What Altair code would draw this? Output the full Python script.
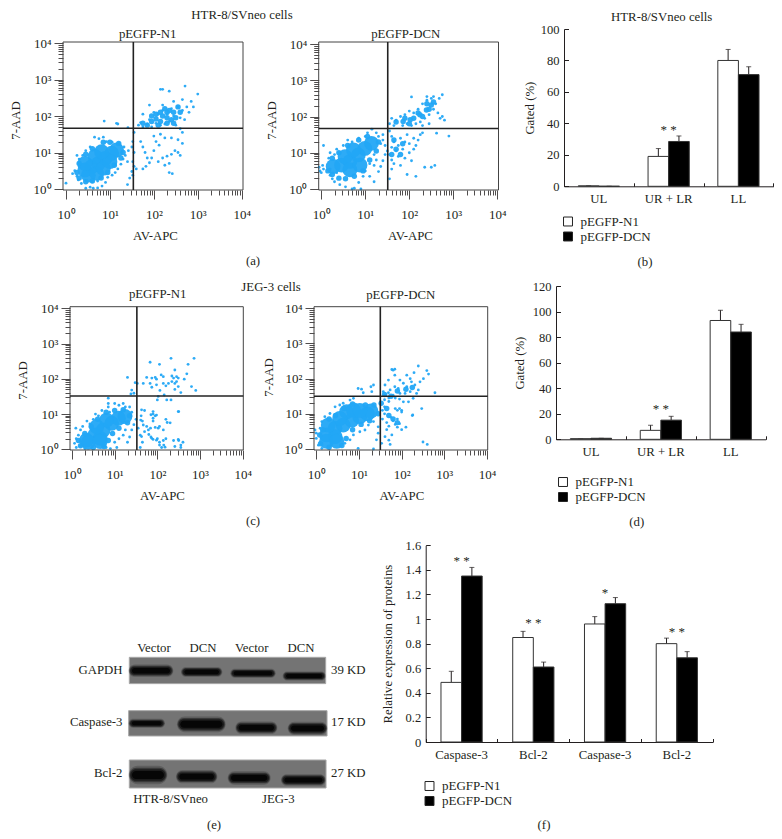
import altair as alt
import pandas as pd

W, H = 766, 825
FONT = "Liberation Serif"
INK = "#231f20"
BLUE = "#22a7f5"
FS = 12.8

# ---------- flow cytometry events, in decades of fluorescence (log10 AV-APC, log10 7-AAD) ----------
a1_core = [(0.43,0.52),(0.58,0.61),(0.74,0.70),(0.89,0.84),(1.04,0.98),(1.15,1.07),(0.51,0.38),(0.70,0.43),(0.85,0.57),(1.0,0.75),(0.66,0.89),(0.81,1.02),(0.43,0.70)]
a1_mid = [(2.05,1.92),(2.2,2.0),(2.3,1.95),(2.15,1.85),(2.3,2.1),(2.4,1.9),(1.95,1.85),
 (1.85,1.75),(1.95,2.0),(2.05,2.05),(2.15,2.1),(2.25,2.2),(2.35,2.15),(2.45,2.1),(2.5,1.95),(2.45,1.8),(2.3,1.8),(2.1,1.75),(2.6,2.1),(2.55,2.25),(1.75,1.8),
 (0.25,0.45),(0.3,0.3),(0.45,0.2),(0.6,0.22),(0.8,0.3),(0.95,0.45),(1.1,0.65),(1.25,0.85),(1.3,1.0),(1.2,1.25),(1.0,1.28),(0.85,1.28),(0.6,1.1),(0.45,0.95),(0.3,0.7)]
a1_small = [(0.0,0.16),(0.2,0.5),(0.25,0.35),(0.3,0.62),(0.15,0.42),(0.28,0.25),(0.35,0.15),(0.45,0.02),(0.55,0.05),(0.62,0.02),(0.72,0.03),(0.82,0.08),(0.9,0.18),(0.6,0.2),(0.72,0.22),(0.48,0.22),(0.95,0.32),(1.05,0.38),(1.12,0.45),(1.18,0.55),(1.25,0.68),(1.3,0.82),(1.35,0.92),(1.42,1.05),(1.4,0.75),(1.32,1.15),(1.2,1.25),(1.05,1.28),(0.92,1.3),(0.75,1.38),(0.65,1.42),(0.85,1.42),(0.55,1.15),(0.45,1.05),(0.38,0.92),(0.3,0.82),(0.25,0.92),(0.87,1.86),(1.18,1.78),(1.15,1.8),(1.41,1.68),(1.55,1.55),(1.52,1.3),(1.5,1.15),(1.55,1.0),(1.52,0.75),(1.55,0.62),(1.5,0.48),(1.52,0.38),(1.6,0.55),(1.45,0.3),(1.4,0.12),
 (1.7,1.3),(1.75,1.15),(1.8,1.0),(1.85,0.85),(1.9,0.72),(1.82,0.62),(1.75,0.55),(1.95,0.85),(2.0,1.05),(2.05,1.3),(2.0,1.45),(2.12,1.2),(2.1,0.75),(2.2,0.85),(2.25,0.65),(2.35,0.7),(2.4,0.95),(2.48,1.05),(2.55,1.0),(2.6,0.92),(2.35,0.45),(2.42,0.42),(2.3,0.9),(2.65,1.25),(2.55,1.35),(2.4,1.4),(2.25,1.4),(2.15,1.5),
 (1.65,1.75),(1.7,1.82),(1.75,1.7),(1.85,1.78),(1.9,1.9),(1.95,1.7),(2.0,2.1),(2.05,1.8),(2.1,2.05),(2.15,1.75),(2.2,2.15),(2.25,1.78),(2.3,2.05),(2.35,1.85),(2.4,2.2),(2.45,2.0),(2.5,1.75),(2.55,2.25),(2.6,1.95),(2.65,2.15),(2.7,1.9),(2.75,2.25),(2.8,2.1),(2.6,1.65),(2.65,1.55),(2.2,2.3),(2.45,2.4),(2.65,2.45),(2.85,2.4),(2.9,2.25),(2.71,2.82),(3.0,2.6),(2.15,2.73),(2.2,2.73),(2.35,2.68),(1.9,2.3),(1.75,2.05)]

a2_core = [(.27,.62),(.46,.66),(.65,.76),(.84,.94),(.99,1.12),(1.14,1.26),(.54,.89),(.73,1.08),(.65,.53),(.88,.66)]
a2_mid = [(2.02,1.91),(2.24,2.05),(2.39,2.18),(2.5,2.32),(1.86,1.86),
 (2.1,1.95),(2.2,2.1),(2.3,2.0),(2.45,2.2),(2.55,2.4),(2.4,2.35),(2.0,1.8),(1.9,1.95),(1.7,1.85),
 (1.7,1.1),(1.8,.95),(1.85,1.25),(1.6,.95),(1.65,1.35),
 (.15,.5),(.25,.4),(.4,.3),(.55,.28),(.75,.35),(.95,.5),(1.1,.8),(1.25,1.05),(1.3,1.3),(1.05,1.45),(.85,1.35),(.6,1.2),(.4,1.0),(.25,.85)]
a2_small = [(-.05,.6),(-.03,.5),(0,.45),(.05,.55),(.03,.65),(.05,1.2),(.2,.55),(.2,.38),(.25,.28),(.3,.2),(.35,.45),(.42,.12),(.55,.06),(.7,0),(.75,.02),(.9,.0),(.85,.18),(.3,.95),(.2,1.0),(.17,.85),(.35,1.1),(.4,1.0),(.5,1.2),(.6,1.35),(.7,1.3),(.85,1.4),(1.0,1.45),(1.05,1.55),(1.15,1.65),(1.25,1.55),(1.3,1.45),(1.4,1.5),(1.2,.95),(1.25,.8),(1.2,.65),(1.1,.7),(1.0,.5),(.95,.35),(1.1,.35),(1.2,.2),(1.3,.48),(1.35,.62),(1.4,.78),(1.45,.95),(1.5,1.05),(1.45,1.2),(1.35,1.25),(1.4,1.35),
 (1.55,1.6),(1.6,1.45),(1.65,1.3),(1.6,1.15),(1.55,.95),(1.6,.8),(1.65,.7),(1.7,1.05),(1.75,.9),(1.75,1.2),(1.8,1.4),(1.8,.65),(1.85,1.1),(1.9,.85),(1.9,1.3),(1.95,1.5),(2.0,1.0),(2.0,1.25),(2.05,.78),(2.1,1.1),(2.1,1.4),(2.15,1.2),(2.2,1.35),(2.25,1.5),(2.3,1.55),(1.6,.55),(1.55,.28),(1.95,.4),(2.15,.35),(2.35,.6),(2.5,.6),(2.58,.65),(2.9,1.46),(2.62,1.54),
 (1.55,1.8),(1.6,1.95),(1.65,1.75),(1.7,1.9),(1.8,2.0),(1.85,1.75),(1.9,2.05),(1.95,1.8),(2.0,2.15),(2.05,1.75),(2.1,2.1),(2.15,1.8),(2.2,2.2),(2.25,1.85),(2.3,2.35),(2.35,1.95),(2.4,2.45),(2.45,2.05),(2.5,2.5),(2.55,2.2),(2.6,2.35),(2.65,2.1),(2.7,1.95),(2.75,2.0),(2.8,1.9),(2.3,1.75),(2.45,1.8),(2.55,2.55),(2.68,2.5),(2.75,2.6),(2.05,2.54),(2.4,2.55)]

c1_core = [(.34,.26),(.54,.41),(.73,.55),(.93,.74),(1.09,.88),(1.24,.93),(.66,.31),(.81,.83),(.58,.64),(.38,.2),(.66,.22)]
c1_mid = [(.2,.1),(.5,.05),(.3,.45),(.45,.65),(.6,.85),(.8,1.05),(1.0,1.1),(1.2,1.12),(1.35,.95),(1.3,.75),(1.1,.6),(.95,.45),(.85,.25),(.75,.08),(.15,.25)]
c1_small = [(.06,.17),(.09,.6),(.1,.3),(.1,.05),(.15,.4),(.2,.1),(.2,.55),(.25,.65),(.3,.02),(.42,.72),(.35,.8),(.5,.85),(.55,1.0),(.62,.95),(.7,1.1),(.85,1.2),(.85,1.3),(.88,1.05),(1.0,1.3),(1.1,1.25),(1.2,1.3),(1.25,1.2),(1.0,.2),(1.1,.3),(1.2,.4),(1.25,.55),(1.3,.2),(1.35,.35),(1.4,.55),(.9,.02),(.8,.05),(1.05,.05),(1.45,.7),(1.5,.85),(1.4,1.05),(1.35,1.2),
 (1.55,.6),(1.6,.4),(1.65,.2),(1.7,.5),(1.65,.8),(1.7,1.1),(1.62,.95),(1.75,.65),(1.8,.42),(1.85,.35),(1.6,.05),(2.0,.3),(1.9,.28),(2.05,.2),(2.1,.05),(2.15,.12),(2.2,.3),(2.5,.25),(2.55,.12),(2.6,.2),(2.55,.05),(2.5,1.07),(1.85,.98),(1.9,1.0),(1.95,.95),(1.9,.8),(2.2,.85),(2.05,.65),(1.95,.62),(2.3,.75),
 (1.83,2.47),(2.05,2.41),(2.32,2.58),(2.86,2.58),(2.72,2.41),(2.41,2.25),(1.3,2.04),(1.48,1.89),(1.53,1.87),(1.67,1.87),(1.75,2.04),(1.87,2.02),(1.95,2.04),(2.09,2.11),(2.14,2.06),(2.34,2.08),(2.45,2.06),(2.69,2.14),(2.63,1.99),(2.41,1.87),(2.49,1.78),(2.8,1.78),(2.9,1.67),(2.55,1.61),(2.14,1.87),(2.2,1.8),(1.98,1.83),(1.87,1.76),(2.06,1.67),(2.41,1.7),(2.34,1.92),(2.45,1.92),(2.49,2.02),(2.38,2.02),(2.26,1.87),(1.83,1.87),(1.98,1.99),
 (2.0,1.4),(2.02,1.5),(2.22,1.4),(2.32,1.4),(2.16,1.54),(2.49,1.07),(1.45,1.59),(1.38,1.57),(1.4,1.68),(.85,1.45),(1.9,1.07),(1.98,.97),(1.9,.88),(2.23,.76),(2.14,.55),(2.02,.6),(1.63,1.12),(1.61,.83),(1.67,.69),(1.79,.55),(1.84,.6),(1.63,.36),(1.87,.31),(1.98,.26),(2.14,.25),(2.38,.25),(2.49,.28),(2.41,.08),(2.05,.12),(2.18,.06)]

c2_core = [(.24,.4),(.44,.59),(.63,.68),(.83,.82),(1.02,.92),(1.2,1.0),(1.28,1.08),(.44,.35),(.71,1.06),(.55,.87),(.87,1.11),(.28,.68),(1.02,1.1),(.24,.22),(.48,.22)]
c2_mid = [(1.52,1.3),(1.6,1.55),(1.7,.95),(1.65,1.15),(1.75,1.5),(1.9,1.65),(2.1,1.7),(2.25,1.75),(1.8,.85),(1.9,.75),
 (.08,.4),(.15,.55),(.3,.85),(.45,.95),(.65,1.15),(.85,1.28),(1.15,1.25),(1.35,1.25),(1.45,1.0),(1.25,.8),(1.05,.7),(.85,.55),(.7,.3),(.6,.1),(.3,.05),(.1,.15)]
c2_small = [(-.03,.54),(0,.3),(.05,.11),(.13,.02),(0,.45),(.09,.59),(.13,.78),(.2,.92),(.32,1.01),(.44,1.2),(.55,1.25),(.63,1.3),(.79,1.39),(.87,1.44),(.98,1.72),(1.06,1.7),(1.1,1.6),(1.3,1.63),(1.34,1.82),(1.28,1.77),
 (.67,.16),(.79,.26),(.87,.4),(1.02,.49),(1.14,.54),(1.22,.68),(1.34,.78),(1.45,.63),(1.41,.26),(.98,.02),(1.34,.0),(1.45,.45),(1.53,.16),(1.73,.13),(1.77,.4),(1.61,.35),(1.7,.25),
 (1.6,1.0),(1.55,.85),(1.65,.75),(1.7,.65),(1.75,.9),(1.8,.8),(1.85,.7),(1.9,.62),(1.95,.72),(1.9,.85),(1.65,.55),(1.6,1.2),(1.55,1.1),(1.7,1.35),(1.85,1.15),(1.95,1.15),(2.0,1.05),(2.0,1.1),(1.9,1.1),(2.25,.95),(2.5,.2),(2.6,.13),(2.47,1.15),(2.1,.62),(2.0,.55),(2.26,.97),
 (1.77,2.26),(1.84,2.27),(1.8,2.24),(1.84,2.1),(2.39,2.36),(2.59,2.23),(2.63,2.13),(2.51,2.0),(2.43,1.91),(2.29,2.17),(2.12,2.1),(2.2,2.0),(1.96,1.96),(1.69,1.96),(1.61,1.82),(1.57,1.63),(2.78,1.6),(1.61,1.53),(1.73,1.68),(1.84,1.77),(1.92,1.72),(2.04,1.87),(2.12,1.77),(2.23,1.91),(2.31,1.82),(2.39,1.68),(2.2,1.63),(2.08,1.58),(1.96,1.58),(1.8,1.53),(1.69,1.6),(2.27,1.44),(2.16,1.34),(2.04,1.34),(2.35,1.58),(1.6,1.4),(1.7,1.45),(1.85,1.45),(1.95,1.42)]

# gates, in decades
a1_gate = (1.533, 1.663)
a2_gate = (1.51, 1.67)
c1_gate = (1.52, 1.51)
c2_gate = (1.50, 1.50)

# ---------- bar data ----------
SERIES = ["pEGFP-N1", "pEGFP-DCN"]
b_cats = ["UL", "UR + LR", "LL"]
b_n1 = [0.3, 19, 80]
b_dcn = [0.05, 28.5, 71]
b_n1_top = [0.4, 24, 87]
b_dcn_top = [0.05, 32, 76]
b_stars = [("UR + LR", 37.7, "* *")]

d_cats = ["UL", "UR + LR", "LL"]
d_n1 = [0.5, 7, 93]
d_dcn = [0.8, 15, 84]
d_n1_top = [0.5, 11, 101]
d_dcn_top = [0.8, 18, 90]
d_stars = [("UR + LR", 26.3, "* *")]

f_cats = ["Caspase-3|HTR-8/SVneo", "Bcl-2|HTR-8/SVneo", "Caspase-3|JEG-3", "Bcl-2|JEG-3"]
f_n1 = [0.485, 0.85, 0.96, 0.80]
f_dcn = [1.35, 0.61, 1.125, 0.685]
f_n1_top = [0.575, 0.90, 1.02, 0.845]
f_dcn_top = [1.42, 0.65, 1.175, 0.735]
f_stars = [(f_cats[0], 1.50, "* *"), (f_cats[1], 0.993, "* *"), (f_cats[2], 1.237, "*"), (f_cats[3], 0.92, "* *")]

# ---------- western blot, in densitometry-strip units ----------
blot_rows = ["GAPDH", "Caspase-3", "Bcl-2"]
blot_kd = ["39 KD", "17 KD", "27 KD"]
blot_strip = [("GAPDH", 388, 977, 352, 431), ("Caspase-3", 386, 981, 512, 588), ("Bcl-2", 388, 978, 660, 744)]
blot_bands = [
    (388, 518, 392, 30), (545, 665, 396, 24), (693, 825, 400, 22), (850, 975, 408, 22),
    (388, 493, 550, 22), (533, 675, 553, 38), (708, 830, 563, 30), (865, 980, 565, 32),
    (388, 500, 705, 44), (530, 650, 710, 32), (685, 810, 714, 32), (845, 975, 720, 28),
]


def px(v):
    return v - 8


def note(text, x, y, size=FS, align="center", angle=None):
    kw = {} if angle is None else {"angle": angle}
    return alt.Chart(alt.Data(values=[{}])).mark_text(
        text=text, font=FONT, fontSize=size, color=INK, align=align, baseline="middle", **kw
    ).encode(x=alt.value(px(x)), y=alt.value(px(y)))


DECADES = [1, 10, 100, 1000, 10000]
MINOR = [m * d for d in DECADES[:-1] for m in range(2, 10)]
SUP = "'10' + ['⁰','¹','²','³','⁴'][round(log(datum.value)/LN10)]"


def scatter(core, mid, small, gate, geo, ylab, xlab_pos, title):
    L, R, T, B = geo["frame"]
    xs = alt.Scale(type="log", domain=[1, 10000], range=[px(geo["x0"]), px(geo["x4"])])
    ys = alt.Scale(type="log", domain=[1, 10000], range=[px(geo["y0"]), px(geo["y4"])])
    rows = ([dict(e=a, f=b, kind="core") for a, b in core] +
            [dict(e=a, f=b, kind="mid") for a, b in mid] +
            [dict(e=a, f=b, kind="small") for a, b in small])
    df = pd.DataFrame(rows)
    df["apc"] = 10 ** df["e"]
    df["aad"] = 10 ** df["f"]
    pts = alt.Chart(df).mark_circle(color=BLUE, opacity=0.95).encode(
        x=alt.X("apc:Q", scale=xs, axis=alt.Axis(
            orient="bottom", offset=px(B) - H, values=DECADES, labelExpr=SUP, tickSize=9, tickColor=INK, tickWidth=0.8,
            domain=False, grid=False, labelFont=FONT, labelFontSize=13, labelColor=INK, labelPadding=9,
            labelOverlap=False, labelFlush=False, title="AV-APC", titleFont=FONT, titleFontSize=FS, titleFontWeight="normal",
            titleColor=INK, titleX=px(xlab_pos[0]), titleY=xlab_pos[1] - B, titleBaseline="middle")),
        y=alt.Y("aad:Q", scale=ys, axis=alt.Axis(
            orient="left", offset=-px(L), values=DECADES, labelExpr=SUP, tickSize=9, tickColor=INK, tickWidth=0.8,
            domain=False, grid=False, labelFont=FONT, labelFontSize=13, labelColor=INK, labelPadding=3,
            labelOverlap=False, labelFlush=False, title="7-AAD", titleFont=FONT, titleFontSize=FS, titleFontWeight="normal",
            titleColor=INK, titleX=ylab[0] - L, titleY=px(ylab[1]), titleBaseline="middle")),
        size=alt.Size("kind:N", scale=alt.Scale(type="ordinal", domain=["core", "mid", "small"], range=[220, 30, 8]), legend=None),
    )
    host = alt.Chart(alt.Data(values=[{"a": 1, "b": 1}])).mark_point(opacity=0).encode(
        x=alt.X("a:Q", scale=xs, axis=alt.Axis(orient="bottom", offset=px(B) - H, values=MINOR, labels=False, tickSize=5,
                                               tickColor=INK, tickWidth=0.8, domain=False, grid=False, title=None)),
        y=alt.Y("b:Q", scale=ys, axis=alt.Axis(orient="left", offset=-px(L), values=MINOR, labels=False, tickSize=5,
                                               tickColor=INK, tickWidth=0.8, domain=False, grid=False, title=None)),
    )
    one = alt.Data(values=[{}])
    frame = alt.Chart(one).mark_rect(fill=None, stroke="#444444", strokeWidth=1).encode(
        x=alt.value(px(L)), x2=alt.value(px(R)), y=alt.value(px(T)), y2=alt.value(px(B)))
    gv = alt.Chart(one).mark_rule(color="#222222", strokeWidth=1.6).encode(
        x=alt.X(datum=10 ** gate[0], scale=xs, axis=None), y=alt.value(px(T)), y2=alt.value(px(B)))
    gh = alt.Chart(one).mark_rule(color="#222222", strokeWidth=1.6).encode(
        y=alt.Y(datum=10 ** gate[1], scale=ys, axis=None), x=alt.value(px(L)), x2=alt.value(px(R)))
    return [pts, host, frame, gv, gh, note(title[0], title[1], title[2])]


def bars(cats, n1, dcn, n1_top, dcn_top, stars, geo, ticks, ylabel, ylab_x, legend_xy):
    x0, x1, y0, y1, ymax = geo
    bw = (x1 - x0) / len(cats)
    bar_w = 20.6
    xs = alt.Scale(type="band", domain=cats, range=[px(x0), px(x1)], paddingInner=0, paddingOuter=0)
    os_ = alt.Scale(type="band", domain=SERIES, range=[bw / 2 - bar_w, bw / 2 + bar_w], paddingInner=0, paddingOuter=0)
    ys = alt.Scale(domain=[0, ymax], range=[px(y0), px(y1)])
    rows = []
    for i, c in enumerate(cats):
        rows.append(dict(cat=c, series=SERIES[0], value=n1[i], top=n1_top[i]))
        rows.append(dict(cat=c, series=SERIES[1], value=dcn[i], top=dcn_top[i]))
    df = pd.DataFrame(rows)
    lab = "split(datum.label,'|')[0]"
    barc = alt.Chart(df).mark_bar(stroke="#333333", strokeWidth=1).encode(
        x=alt.X("cat:N", scale=xs, sort=cats, axis=alt.Axis(
            orient="bottom", offset=px(y0) - H, ticks=False, labelAngle=0, labelExpr=lab, labelFont=FONT, labelFontSize=FS,
            labelColor=INK, labelPadding=6, domain=True, domainColor=INK, domainWidth=1, grid=False, title=None)),
        xOffset=alt.XOffset("series:N", scale=os_, sort=SERIES),
        y=alt.Y("value:Q", scale=ys, axis=alt.Axis(
            orient="left", offset=-px(x0), values=ticks, ticks=False, labelFont=FONT, labelFontSize=12.5, labelColor=INK,
            labelPadding=5, domain=True, domainColor=INK, domainWidth=1, grid=False, labelOverlap=False, labelFlush=False,
            format=".6~g", title=ylabel, titleFont=FONT, titleFontSize=FS, titleFontWeight="normal", titleColor=INK,
            titleX=ylab_x - x0, titleBaseline="middle")),
        fill=alt.Fill("series:N", scale=alt.Scale(domain=SERIES, range=["white", "black"]), legend=alt.Legend(
            orient="none", legendX=px(legend_xy[0]), legendY=px(legend_xy[1]), title=None, symbolType="square", symbolSize=80,
            symbolStrokeColor="#222222", symbolStrokeWidth=1, labelFont=FONT, labelFontSize=13, labelColor=INK,
            rowPadding=1, labelOffset=6)),
    )
    host = alt.Chart(df).mark_point(opacity=0).encode(
        x=alt.X("cat:N", scale=xs, sort=cats, axis=alt.Axis(
            orient="top", offset=-px(y0), tickBand="extent", tickSize=3.5, tickColor=INK, labels=False, domain=False,
            grid=False, title=None)),
        y=alt.Y("value:Q", scale=ys, axis=alt.Axis(
            orient="right", offset=px(x0) - W, values=ticks, tickSize=4.5, tickColor=INK, labels=False, domain=False,
            grid=False, title=None)),
    )
    xx = alt.X("cat:N", scale=xs, sort=cats, axis=None)
    oo = alt.XOffset("series:N", scale=os_, sort=SERIES)
    yy = alt.Y("value:Q", scale=ys, axis=None)
    stem = alt.Chart(df).mark_rule(color=INK, strokeWidth=1).encode(x=xx, xOffset=oo, y=yy, y2="top:Q")
    cap = alt.Chart(df).mark_tick(orient="horizontal", color=INK, size=5, thickness=1).encode(
        x=xx, xOffset=oo, y=alt.Y("top:Q", scale=ys, axis=None))
    sdf = pd.DataFrame(stars, columns=["cat", "level", "mark"])
    st = alt.Chart(sdf).mark_text(font=FONT, fontSize=13, color=INK, baseline="middle", dy=3).encode(
        x=xx, y=alt.Y("level:Q", scale=ys, axis=None), text="mark:N")
    return [stem, cap, barc, host, st]


def blot():
    xs = alt.Scale(domain=[388, 977], range=[px(129.3), px(325.7)])
    ys = alt.Scale(domain=[352, 744], range=[px(657.3), px(788)])
    strip = pd.DataFrame(blot_strip, columns=["row", "a", "b", "c", "d"])
    base = alt.Chart(strip).mark_rect(fill="#747474", stroke="#a8a8a8", strokeWidth=1).encode(
        x=alt.X("a:Q", scale=xs, axis=None), x2="b:Q", y=alt.Y("c:Q", scale=ys, axis=None), y2="d:Q")
    bd = pd.DataFrame(blot_bands, columns=["a", "b", "m", "t"])
    out = [base]
    for grow, inset, col, op in [(1.25, -2, "#2a2a2a", 0.3), (1.0, 0, "#1c1c1c", 0.55), (0.8, 3, "#141414", 0.8), (0.55, 8, "#060606", 1)]:
        d = bd.assign(a=bd.a + inset, b=bd.b - inset, c=bd.m - bd.t * grow / 2, d=bd.m + bd.t * grow / 2)
        out.append(alt.Chart(d).mark_rect(fill=col, opacity=op, cornerRadius=30).encode(
            x=alt.X("a:Q", scale=xs, axis=None), x2="b:Q", y=alt.Y("c:Q", scale=ys, axis=None), y2="d:Q"))
    return out


layers = []
layers += scatter(a1_core, a1_mid, a1_small, a1_gate,
                  dict(frame=(63, 243, 42, 190), x0=66, x4=241.7, y0=189, y4=43), (15, 120), (155, 235), ("pEGFP-N1", 147.7, 34))
layers += scatter(a2_core, a2_mid, a2_small, a2_gate,
                  dict(frame=(318.7, 498.5, 42, 190), x0=321.3, x4=497.3, y0=189, y4=44), (271, 120), (410, 235.5), ("pEGFP-DCN", 405.7, 34))
layers += scatter(c1_core, c1_mid, c1_small, c1_gate,
                  dict(frame=(70, 243.3, 306.7, 450), x0=72, x4=242.7, y0=449.3, y4=308.3), (22.7, 380), (162, 495), ("pEGFP-N1", 157.7, 294))
layers += scatter(c2_core, c2_mid, c2_small, c2_gate,
                  dict(frame=(314, 487.7, 306.7, 450), x0=316.3, x4=487, y0=449, y4=308.3), (268.3, 377), (401.3, 495), ("pEGFP-DCN", 400.7, 295))

layers += bars(b_cats, b_n1, b_dcn, b_n1_top, b_dcn_top, b_stars, (564, 773.3, 186.3, 29, 100),
               [0, 20, 40, 60, 80, 100], "Gated (%)", 529, (561.5, 215))
layers += bars(d_cats, d_n1, d_dcn, d_n1_top, d_dcn_top, d_stars, (556, 765.7, 439.3, 286, 120),
               [0, 20, 40, 60, 80, 100, 120], "Gated (%)", 519, (556.5, 475.5))
layers += bars(f_cats, f_n1, f_dcn, f_n1_top, f_dcn_top, f_stars, (425.7, 712.7, 742, 545.3, 1.6),
               [0, 0.2, 0.4, 0.6, 0.8, 1, 1.2, 1.4, 1.6], "Relative expression of proteins", 387.3, (423, 779.5))
layers += blot()

layers += [
    note("HTR-8/SVneo cells", 242, 15), note("HTR-8/SVneo cells", 661.7, 16.7), note("JEG-3 cells", 271, 287),
    note("(a)", 253, 261), note("(b)", 645, 261.7), note("(c)", 253, 520.7), note("(d)", 636.7, 521.7),
    note("(e)", 214, 825), note("(f)", 544, 825),
    note("Vector", 154, 648), note("DCN", 203, 648), note("Vector", 251.7, 648), note("DCN", 301, 648),
    note("HTR-8/SVneo", 170.7, 799), note("JEG-3", 278.3, 799),
]
for name, kd, y in zip(blot_rows, blot_kd, [670.3, 722, 772.7]):
    layers.append(note(name, 122.5, y, align="right"))
    layers.append(note(kd, 331, y, align="left"))

chart = alt.layer(*layers).resolve_scale(
    x="independent", y="independent", xOffset="independent", fill="independent", size="independent"
).resolve_axis(x="independent", y="independent").resolve_legend(fill="independent").properties(
    width=W, height=H, padding=0, autosize=alt.AutoSizeParams(type="none"), background="white"
).configure_view(stroke=None)

chart.save("out.html", embed_options={"renderer": "svg", "actions": False})
